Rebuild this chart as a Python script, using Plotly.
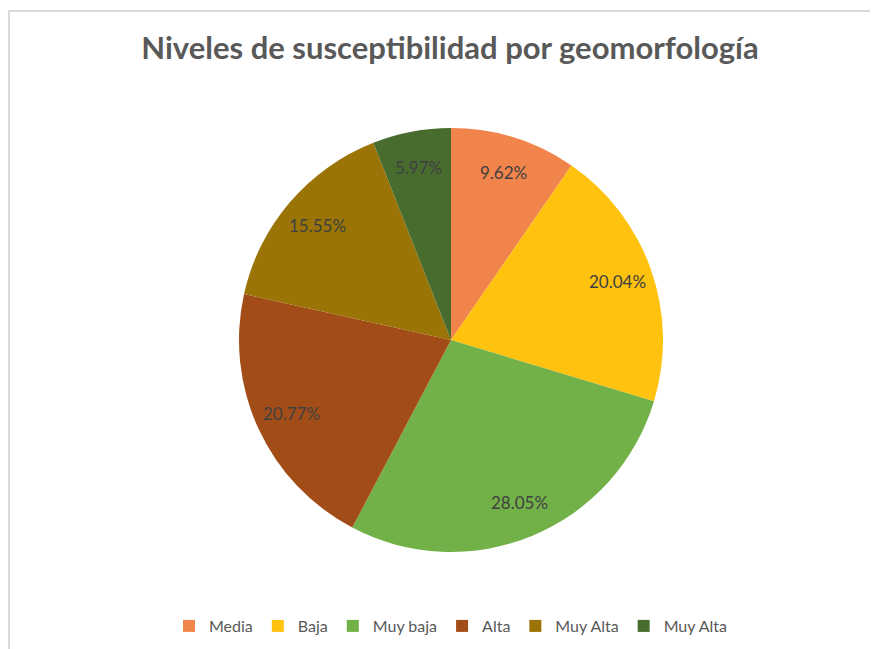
import math
import plotly.graph_objects as go

labels = ["Media", "Baja", "Muy baja", "Alta", "Muy Alta", "Muy Alta "]
values = [9.62, 20.04, 28.05, 20.77, 15.55, 5.97]
colors = ["#F0844A", "#FFC20E", "#72B048", "#A24D17", "#9A7406", "#476C2E"]

W, H = 878, 649
OFF = 8  # page body margin

# pie geometry (figure pixels)
CX, CY, R = 451 - OFF, 340 - OFF, 212
LABEL_FRAC = 0.83

fig = go.Figure(go.Pie(
    labels=labels,
    values=values,
    sort=False,
    direction="clockwise",
    rotation=0,
    marker=dict(colors=colors, line=dict(width=0)),
    textinfo="none",
    domain=dict(x=[(CX - R) / W, (CX + R) / W], y=[1 - (CY + R) / H, 1 - (CY - R) / H]),
    showlegend=True,
    hoverinfo="label+value",
))

# data labels placed along the mid-angle of each slice
total = sum(values)
annotations = []
cum = 0.0
for v in values:
    mid = (cum + v / 2) / total * 2 * math.pi
    cum += v
    px = CX + LABEL_FRAC * R * math.sin(mid)
    py = CY - LABEL_FRAC * R * math.cos(mid)
    annotations.append(dict(
        x=px / W, y=1 - py / H, xref="paper", yref="paper",
        text=f"{v:.2f}%", showarrow=False,
        xanchor="center", yanchor="middle",
        font=dict(family="Lato, Open Sans, sans-serif", size=17, color="#404040"),
    ))

fig.update_layout(
    width=W, height=H,
    margin=dict(l=0, r=0, t=0, b=0),
    paper_bgcolor="white",
    plot_bgcolor="white",
    title=dict(
        text="<b>Niveles de susceptibilidad por geomorfología</b>",
        x=(450 - OFF) / W, xanchor="center",
        y=1 - (48 - OFF) / H, yanchor="middle",
        font=dict(family="Lato, Open Sans, sans-serif", size=31, color="#595959"),
    ),
    legend=dict(
        orientation="h",
        x=(453 - OFF) / W, xanchor="center",
        y=1 - (626 - OFF) / H, yanchor="middle",
        font=dict(family="Lato, Open Sans, sans-serif", size=16, color="#595959"),
        itemwidth=30,
        traceorder="normal",
    ),
    annotations=annotations,
    shapes=[
        dict(type="line", xref="paper", yref="paper",
             x0=0.5 / W, x1=1.02, y0=1 - 3 / H, y1=1 - 3 / H,
             line=dict(color="#D9D9D9", width=2)),
        dict(type="line", xref="paper", yref="paper",
             x0=1 / W, x1=1 / W, y0=1 - 3 / H, y1=-0.02,
             line=dict(color="#D9D9D9", width=2)),
    ],
)

fig.write_html("out.html")
